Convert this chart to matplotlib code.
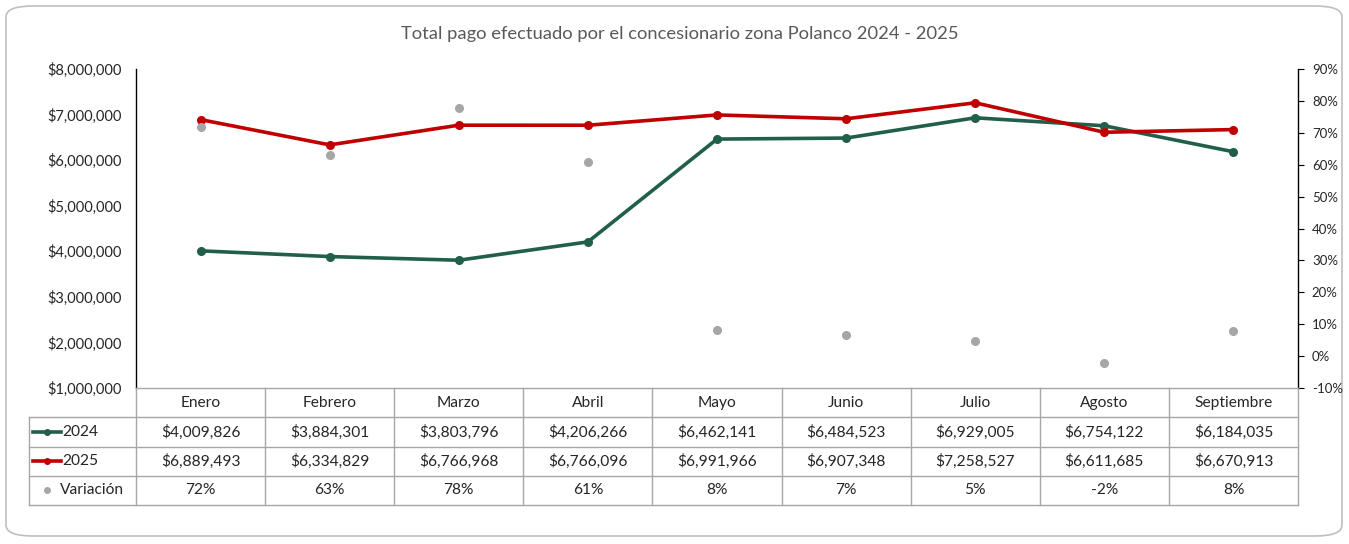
import matplotlib
matplotlib.use('Agg')
import matplotlib.pyplot as plt
from matplotlib.patches import FancyBboxPatch
from matplotlib.ticker import FuncFormatter, MultipleLocator

plt.rcParams['font.family'] = ['Lato', 'DejaVu Sans']

# data
meses = ['Enero', 'Febrero', 'Marzo', 'Abril', 'Mayo', 'Junio', 'Julio', 'Agosto', 'Septiembre']
pago_2024 = [4009826, 3884301, 3803796, 4206266, 6462141, 6484523, 6929005, 6754122, 6184035]
pago_2025 = [6889493, 6334829, 6766968, 6766096, 6991966, 6907348, 7258527, 6611685, 6670913]
variacion = [0.718, 0.631, 0.779, 0.609, 0.082, 0.0652, 0.048, -0.021, 0.079]

verde = '#215f4a'
rojo = '#c00000'
gris = '#a6a6a6'
txt = '#262626'

W, H = 1349, 544
fig = plt.figure(figsize=(W / 100, H / 100), dpi=100)

# rounded frame around the chart
frame = FancyBboxPatch((6 / W, 8 / H), 1336 / W, 530 / H,
                       boxstyle='round,pad=0,rounding_size=0.02',
                       transform=fig.transFigure, fc='none', ec='#bfbfbf', lw=1.2, zorder=-1)
fig.patches.append(frame)

fig.text(680 / W, 1 - 34 / H, 'Total pago efectuado por el concesionario zona Polanco 2024 - 2025',
         ha='center', va='center', fontsize=13.2, color='#595959')

# main axes
x0, x1, ytop, ybot = 136, 1298, 69, 388
ax = fig.add_axes([x0 / W, 1 - ybot / H, (x1 - x0) / W, (ybot - ytop) / H])
ax.set_facecolor('none')
xs = list(range(len(meses)))
ax.plot(xs, pago_2024, color=verde, lw=2.6, marker='o', ms=5.5, zorder=3)
ax.plot(xs, pago_2025, color=rojo, lw=2.6, marker='o', ms=5.5, zorder=3)
ax.set_xlim(-0.5, len(meses) - 0.5)
ax.set_ylim(1000000, 8000000)
ax.yaxis.set_major_locator(MultipleLocator(1000000))
ax.yaxis.set_major_formatter(FuncFormatter(lambda v, p: '${:,.0f}'.format(v)))
ax.set_xticks([])
ax.tick_params(axis='y', length=0, pad=10, labelsize=10.5, labelcolor=txt)
for s in ['top', 'bottom', 'right']:
    ax.spines[s].set_visible(False)
ax.spines['left'].set_color('black')
ax.spines['left'].set_linewidth(1)

ax2 = ax.twinx()
ax2.plot(xs, variacion, linestyle='none', marker='o', ms=5.5, color=gris, zorder=4)
ax2.set_ylim(-0.1, 0.9)
ax2.yaxis.set_major_locator(MultipleLocator(0.1))
ax2.yaxis.set_major_formatter(FuncFormatter(lambda v, p: '{:.0f}%'.format(v * 100)))
ax2.tick_params(axis='y', length=4, direction='out', pad=6, labelsize=9.5, labelcolor=txt)
for s in ['top', 'bottom', 'left']:
    ax2.spines[s].set_visible(False)
ax2.spines['right'].set_color('black')
ax2.spines['right'].set_linewidth(1)

# data table
tx0, tbot = 29, 505
colw = (x1 - x0) / len(meses)
lab_w = (x0 - tx0) / colw
tab = fig.add_axes([tx0 / W, 1 - tbot / H, (x1 - tx0) / W, (tbot - ybot) / H])
tab.set_xlim(-0.5 - lab_w, len(meses) - 0.5)
tab.set_ylim(4, 0)
tab.axis('off')
lc = '#a6a6a6'
left = -0.5 - lab_w
right = len(meses) - 0.5
# horizontal lines
tab.plot([-0.5, right], [0, 0], color=lc, lw=1, clip_on=False)
for r in [1, 2, 3, 4]:
    tab.plot([left, right], [r, r], color=lc, lw=1, clip_on=False)
# vertical lines
for i in range(len(meses) + 1):
    tab.plot([i - 0.5, i - 0.5], [0, 4], color=lc, lw=1, clip_on=False)
tab.plot([left, left], [1, 4], color=lc, lw=1, clip_on=False)

fs = 11.2
for i, m in enumerate(meses):
    tab.text(i, 0.5, m, ha='center', va='center', fontsize=fs, color=txt)
    tab.text(i, 1.5, '${:,.0f}'.format(pago_2024[i]), ha='center', va='center', fontsize=fs, color=txt)
    tab.text(i, 2.5, '${:,.0f}'.format(pago_2025[i]), ha='center', va='center', fontsize=fs, color=txt)
    tab.text(i, 3.5, '{:.0f}%'.format(variacion[i] * 100), ha='center', va='center', fontsize=fs, color=txt)

# legend keys in the label column
k0 = left + 4 / colw
k1 = left + 32 / colw
tab.plot([k0, k1], [1.5, 1.5], color=verde, lw=2.6, clip_on=False)
tab.plot([(k0 + k1) / 2], [1.5], 'o', color=verde, ms=4, clip_on=False)
tab.plot([k0, k1], [2.5, 2.5], color=rojo, lw=2.6, clip_on=False)
tab.plot([(k0 + k1) / 2], [2.5], 'o', color=rojo, ms=4, clip_on=False)
tab.plot([(k0 + k1) / 2], [3.5], 'o', color=gris, ms=4, clip_on=False)
tab.text(k1 + 1 / colw, 1.5, '2024', ha='left', va='center', fontsize=fs, color=txt)
tab.text(k1 + 1 / colw, 2.5, '2025', ha='left', va='center', fontsize=fs, color=txt)
tab.text(left + 31 / colw, 3.5, 'Variación', ha='left', va='center', fontsize=fs, color=txt)

fig.savefig('out.png', dpi=100)
